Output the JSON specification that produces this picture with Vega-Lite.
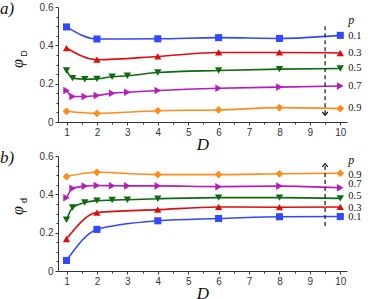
{
  "$schema": "https://vega.github.io/schema/vega-lite/v6.json",
  "padding": {"left": 0, "top": 0, "right": 0, "bottom": 0},
  "spacing": -3,
  "config": {
    "view": {"stroke": null},
    "axis": {
      "grid": false,
      "labelFont": "Liberation Sans",
      "labelFontSize": 10,
      "labelColor": "#333",
      "domainColor": "#333",
      "tickColor": "#333",
      "tickSize": 3,
      "labelPadding": 2,
      "titleFont": "Liberation Serif",
      "titleFontStyle": "italic",
      "titleFontWeight": "normal",
      "titleFontSize": 17,
      "titleColor": "#111"
    },
    "title": {"font": "Liberation Serif", "fontStyle": "italic", "fontWeight": "normal", "fontSize": 17, "color": "#111"}
  },
  "datasets": {
    "series": [
      {"panel": "a", "p": "0.1", "D": 1, "phi": 0.496},
      {"panel": "a", "p": "0.1", "D": 2, "phi": 0.433},
      {"panel": "a", "p": "0.1", "D": 4, "phi": 0.434},
      {"panel": "a", "p": "0.1", "D": 6, "phi": 0.44},
      {"panel": "a", "p": "0.1", "D": 8, "phi": 0.436},
      {"panel": "a", "p": "0.1", "D": 10, "phi": 0.452},
      {"panel": "a", "p": "0.3", "D": 1, "phi": 0.386},
      {"panel": "a", "p": "0.3", "D": 2, "phi": 0.325},
      {"panel": "a", "p": "0.3", "D": 4, "phi": 0.342},
      {"panel": "a", "p": "0.3", "D": 6, "phi": 0.363},
      {"panel": "a", "p": "0.3", "D": 8, "phi": 0.363},
      {"panel": "a", "p": "0.3", "D": 10, "phi": 0.36},
      {"panel": "a", "p": "0.5", "D": 1, "phi": 0.269},
      {"panel": "a", "p": "0.5", "D": 1.2, "phi": 0.229},
      {"panel": "a", "p": "0.5", "D": 1.6, "phi": 0.223},
      {"panel": "a", "p": "0.5", "D": 2, "phi": 0.225},
      {"panel": "a", "p": "0.5", "D": 2.5, "phi": 0.236},
      {"panel": "a", "p": "0.5", "D": 3, "phi": 0.241},
      {"panel": "a", "p": "0.5", "D": 4, "phi": 0.258},
      {"panel": "a", "p": "0.5", "D": 6, "phi": 0.269},
      {"panel": "a", "p": "0.5", "D": 8, "phi": 0.276},
      {"panel": "a", "p": "0.5", "D": 10, "phi": 0.279},
      {"panel": "a", "p": "0.7", "D": 1, "phi": 0.164},
      {"panel": "a", "p": "0.7", "D": 1.2, "phi": 0.133},
      {"panel": "a", "p": "0.7", "D": 1.6, "phi": 0.133},
      {"panel": "a", "p": "0.7", "D": 2, "phi": 0.138},
      {"panel": "a", "p": "0.7", "D": 2.5, "phi": 0.15},
      {"panel": "a", "p": "0.7", "D": 3, "phi": 0.155},
      {"panel": "a", "p": "0.7", "D": 4, "phi": 0.164},
      {"panel": "a", "p": "0.7", "D": 6, "phi": 0.176},
      {"panel": "a", "p": "0.7", "D": 8, "phi": 0.182},
      {"panel": "a", "p": "0.7", "D": 10, "phi": 0.188},
      {"panel": "a", "p": "0.9", "D": 1, "phi": 0.056},
      {"panel": "a", "p": "0.9", "D": 2, "phi": 0.045},
      {"panel": "a", "p": "0.9", "D": 4, "phi": 0.059},
      {"panel": "a", "p": "0.9", "D": 6, "phi": 0.063},
      {"panel": "a", "p": "0.9", "D": 8, "phi": 0.075},
      {"panel": "a", "p": "0.9", "D": 10, "phi": 0.07},
      {"panel": "b", "p": "0.1", "D": 1, "phi": 0.055},
      {"panel": "b", "p": "0.1", "D": 2, "phi": 0.217},
      {"panel": "b", "p": "0.1", "D": 4, "phi": 0.262},
      {"panel": "b", "p": "0.1", "D": 6, "phi": 0.274},
      {"panel": "b", "p": "0.1", "D": 8, "phi": 0.283},
      {"panel": "b", "p": "0.1", "D": 10, "phi": 0.284},
      {"panel": "b", "p": "0.3", "D": 1, "phi": 0.167},
      {"panel": "b", "p": "0.3", "D": 2, "phi": 0.305},
      {"panel": "b", "p": "0.3", "D": 4, "phi": 0.32},
      {"panel": "b", "p": "0.3", "D": 6, "phi": 0.334},
      {"panel": "b", "p": "0.3", "D": 8, "phi": 0.333},
      {"panel": "b", "p": "0.3", "D": 10, "phi": 0.334},
      {"panel": "b", "p": "0.5", "D": 1, "phi": 0.267},
      {"panel": "b", "p": "0.5", "D": 1.2, "phi": 0.331},
      {"panel": "b", "p": "0.5", "D": 1.6, "phi": 0.357},
      {"panel": "b", "p": "0.5", "D": 2, "phi": 0.367},
      {"panel": "b", "p": "0.5", "D": 2.5, "phi": 0.37},
      {"panel": "b", "p": "0.5", "D": 3, "phi": 0.372},
      {"panel": "b", "p": "0.5", "D": 4, "phi": 0.377},
      {"panel": "b", "p": "0.5", "D": 6, "phi": 0.383},
      {"panel": "b", "p": "0.5", "D": 8, "phi": 0.383},
      {"panel": "b", "p": "0.5", "D": 10, "phi": 0.379},
      {"panel": "b", "p": "0.7", "D": 1, "phi": 0.382},
      {"panel": "b", "p": "0.7", "D": 1.2, "phi": 0.431},
      {"panel": "b", "p": "0.7", "D": 1.6, "phi": 0.443},
      {"panel": "b", "p": "0.7", "D": 2, "phi": 0.446},
      {"panel": "b", "p": "0.7", "D": 2.5, "phi": 0.445},
      {"panel": "b", "p": "0.7", "D": 3, "phi": 0.444},
      {"panel": "b", "p": "0.7", "D": 4, "phi": 0.444},
      {"panel": "b", "p": "0.7", "D": 6, "phi": 0.44},
      {"panel": "b", "p": "0.7", "D": 8, "phi": 0.443},
      {"panel": "b", "p": "0.7", "D": 10, "phi": 0.434},
      {"panel": "b", "p": "0.9", "D": 1, "phi": 0.493},
      {"panel": "b", "p": "0.9", "D": 2, "phi": 0.515},
      {"panel": "b", "p": "0.9", "D": 4, "phi": 0.503},
      {"panel": "b", "p": "0.9", "D": 6, "phi": 0.503},
      {"panel": "b", "p": "0.9", "D": 8, "phi": 0.507},
      {"panel": "b", "p": "0.9", "D": 10, "phi": 0.51}
    ],
    "labels": [
      {"panel": "a", "D": 10, "y": 0.447, "text": "0.1"},
      {"panel": "a", "D": 10, "y": 0.36, "text": "0.3"},
      {"panel": "a", "D": 10, "y": 0.284, "text": "0.5"},
      {"panel": "a", "D": 10, "y": 0.188, "text": "0.7"},
      {"panel": "a", "D": 10, "y": 0.072, "text": "0.9"},
      {"panel": "b", "D": 10, "y": 0.502, "text": "0.9"},
      {"panel": "b", "D": 10, "y": 0.452, "text": "0.7"},
      {"panel": "b", "D": 10, "y": 0.391, "text": "0.5"},
      {"panel": "b", "D": 10, "y": 0.331, "text": "0.3"},
      {"panel": "b", "D": 10, "y": 0.284, "text": "0.1"}
    ],
    "plabel": [
      {"panel": "a", "D": 10, "y": 0.53, "text": "p"},
      {"panel": "b", "D": 10, "y": 0.58, "text": "p"}
    ],
    "arrows": [
      {"panel": "a", "D": 9.5, "y1": 0.5, "y2": 0.035},
      {"panel": "b", "D": 9.5, "y1": 0.235, "y2": 0.56}
    ]
  },
  "vconcat": [
    {
      "width": 289,
      "height": 115,
      "title": {"text": "a)", "anchor": "start", "frame": "group", "dx": -58, "dy": 20},
      "resolve": {"axis": {"x": "independent", "y": "independent"}},
      "layer": [
        {
          "data": {"name": "series"},
          "transform": [{"filter": "datum.panel == 'a'"}],
          "mark": {"type": "line", "interpolate": "monotone", "strokeWidth": 1.6},
          "encoding": {
            "x": {"field": "D", "type": "quantitative", "scale": {"domain": [0.72, 10.22], "nice": false, "zero": false},
              "axis": {"orient": "bottom", "values": [1, 2, 3, 4, 5, 6, 7, 8, 9, 10], "title": "D", "titlePadding": -1}},
            "y": {"field": "phi", "type": "quantitative", "scale": {"domain": [0, 0.6], "nice": false},
              "axis": {"orient": "left", "values": [0, 0.2, 0.4, 0.6], "labelExpr": "datum.value == 0 ? '0' : format(datum.value, '.1f')", "title": "φ", "titleFontSize": 16, "titleX": -33, "titleY": 56, "titleBaseline": "bottom", "titleAngle": 270}},
            "color": {"field": "p", "type": "nominal", "legend": null,
              "scale": {"domain": ["0.1", "0.3", "0.5", "0.7", "0.9"], "range": ["#3048ff", "#e00c0c", "#0e6a0e", "#b81cb8", "#ff8c1a"]}}
          }
        },
        {
          "data": {"name": "series"},
          "transform": [{"filter": "datum.panel == 'a'"}],
          "mark": {"type": "point", "filled": true, "opacity": 1},
          "encoding": {
            "x": {"field": "D", "type": "quantitative", "axis": {"orient": "bottom", "values": [1.5, 2.5, 3.5, 4.5, 5.5, 6.5, 7.5, 8.5, 9.5], "labels": false, "domain": false, "tickSize": 2, "title": null}},
            "y": {"field": "phi", "type": "quantitative", "axis": {"orient": "left", "values": [0.05, 0.1, 0.15, 0.25, 0.3, 0.35, 0.45, 0.5, 0.55], "labels": false, "domain": false, "tickSize": 2, "title": "D", "titleFont": "Liberation Sans", "titleFontStyle": "normal", "titleFontSize": 9, "titleX": -30, "titleY": 46, "titleBaseline": "bottom", "titleAngle": 270}},
            "color": {"field": "p", "type": "nominal", "legend": null},
            "shape": {"field": "p", "type": "nominal", "legend": null,
              "scale": {"domain": ["0.1", "0.3", "0.5", "0.7", "0.9"], "range": ["square", "triangle-up", "triangle-down", "triangle-right", "diamond"]}},
            "size": {"field": "p", "type": "nominal", "legend": null,
              "scale": {"domain": ["0.1", "0.3", "0.5", "0.7", "0.9"], "range": [50, 60, 60, 60, 75]}}
          }
        },
        {
          "data": {"name": "arrows"},
          "transform": [{"filter": "datum.panel == 'a'"}],
          "mark": {"type": "rule", "strokeDash": [4, 3], "strokeWidth": 1.2, "color": "#111"},
          "encoding": {
            "x": {"field": "D", "type": "quantitative", "axis": null},
            "y": {"field": "y1", "type": "quantitative", "axis": null},
            "y2": {"field": "y2"}
          }
        },
        {
          "data": {"name": "arrows"},
          "transform": [{"filter": "datum.panel == 'a'"}],
          "mark": {"type": "point", "shape": "M-1,-1.2L0,0L1,-1.2", "filled": false, "stroke": "#111", "strokeWidth": 1.2, "size": 30, "opacity": 1},
          "encoding": {
            "x": {"field": "D", "type": "quantitative", "axis": null},
            "y": {"field": "y2", "type": "quantitative", "axis": null}
          }
        },
        {
          "data": {"name": "labels"},
          "transform": [{"filter": "datum.panel == 'a'"}],
          "mark": {"type": "text", "align": "left", "baseline": "middle", "dx": 8, "font": "Liberation Serif", "fontSize": 10.5, "color": "#111"},
          "encoding": {
            "x": {"field": "D", "type": "quantitative", "axis": null},
            "y": {"field": "y", "type": "quantitative", "axis": null},
            "text": {"field": "text"}
          }
        },
        {
          "data": {"name": "plabel"},
          "transform": [{"filter": "datum.panel == 'a'"}],
          "mark": {"type": "text", "align": "left", "baseline": "middle", "dx": 8, "font": "Liberation Serif", "fontStyle": "italic", "fontSize": 12, "color": "#111"},
          "encoding": {
            "x": {"field": "D", "type": "quantitative", "axis": null},
            "y": {"field": "y", "type": "quantitative", "axis": null},
            "text": {"field": "text"}
          }
        }
      ]
    },
    {
      "width": 289,
      "height": 115,
      "title": {"text": "b)", "anchor": "start", "frame": "group", "dx": -58, "dy": 20},
      "resolve": {"axis": {"x": "independent", "y": "independent"}},
      "layer": [
        {
          "data": {"name": "series"},
          "transform": [{"filter": "datum.panel == 'b'"}],
          "mark": {"type": "line", "interpolate": "monotone", "strokeWidth": 1.6},
          "encoding": {
            "x": {"field": "D", "type": "quantitative", "scale": {"domain": [0.72, 10.22], "nice": false, "zero": false},
              "axis": {"orient": "bottom", "values": [1, 2, 3, 4, 5, 6, 7, 8, 9, 10], "title": "D", "titlePadding": -1}},
            "y": {"field": "phi", "type": "quantitative", "scale": {"domain": [0, 0.6], "nice": false},
              "axis": {"orient": "left", "values": [0, 0.2, 0.4, 0.6], "labelExpr": "datum.value == 0 ? '0' : format(datum.value, '.1f')", "title": "φ", "titleFontSize": 16, "titleX": -33, "titleY": 54, "titleBaseline": "bottom", "titleAngle": 270}},
            "color": {"field": "p", "type": "nominal", "legend": null,
              "scale": {"domain": ["0.1", "0.3", "0.5", "0.7", "0.9"], "range": ["#3048ff", "#e00c0c", "#0e6a0e", "#b81cb8", "#ff8c1a"]}}
          }
        },
        {
          "data": {"name": "series"},
          "transform": [{"filter": "datum.panel == 'b'"}],
          "mark": {"type": "point", "filled": true, "opacity": 1},
          "encoding": {
            "x": {"field": "D", "type": "quantitative", "axis": {"orient": "bottom", "values": [1.5, 2.5, 3.5, 4.5, 5.5, 6.5, 7.5, 8.5, 9.5], "labels": false, "domain": false, "tickSize": 2, "title": null}},
            "y": {"field": "phi", "type": "quantitative", "axis": {"orient": "left", "values": [0.05, 0.1, 0.15, 0.25, 0.3, 0.35, 0.45, 0.5, 0.55], "labels": false, "domain": false, "tickSize": 2, "title": "d", "titleFont": "Liberation Sans", "titleFontStyle": "normal", "titleFontSize": 9, "titleX": -30, "titleY": 44, "titleBaseline": "bottom", "titleAngle": 270}},
            "color": {"field": "p", "type": "nominal", "legend": null},
            "shape": {"field": "p", "type": "nominal", "legend": null,
              "scale": {"domain": ["0.1", "0.3", "0.5", "0.7", "0.9"], "range": ["square", "triangle-up", "triangle-down", "triangle-right", "diamond"]}},
            "size": {"field": "p", "type": "nominal", "legend": null,
              "scale": {"domain": ["0.1", "0.3", "0.5", "0.7", "0.9"], "range": [50, 60, 60, 60, 75]}}
          }
        },
        {
          "data": {"name": "arrows"},
          "transform": [{"filter": "datum.panel == 'b'"}],
          "mark": {"type": "rule", "strokeDash": [4, 3], "strokeWidth": 1.2, "color": "#111"},
          "encoding": {
            "x": {"field": "D", "type": "quantitative", "axis": null},
            "y": {"field": "y1", "type": "quantitative", "axis": null},
            "y2": {"field": "y2"}
          }
        },
        {
          "data": {"name": "arrows"},
          "transform": [{"filter": "datum.panel == 'b'"}],
          "mark": {"type": "point", "shape": "M-1,1.2L0,0L1,1.2", "filled": false, "stroke": "#111", "strokeWidth": 1.2, "size": 30, "opacity": 1},
          "encoding": {
            "x": {"field": "D", "type": "quantitative", "axis": null},
            "y": {"field": "y2", "type": "quantitative", "axis": null}
          }
        },
        {
          "data": {"name": "labels"},
          "transform": [{"filter": "datum.panel == 'b'"}],
          "mark": {"type": "text", "align": "left", "baseline": "middle", "dx": 8, "font": "Liberation Serif", "fontSize": 10.5, "color": "#111"},
          "encoding": {
            "x": {"field": "D", "type": "quantitative", "axis": null},
            "y": {"field": "y", "type": "quantitative", "axis": null},
            "text": {"field": "text"}
          }
        },
        {
          "data": {"name": "plabel"},
          "transform": [{"filter": "datum.panel == 'b'"}],
          "mark": {"type": "text", "align": "left", "baseline": "middle", "dx": 8, "font": "Liberation Serif", "fontStyle": "italic", "fontSize": 12, "color": "#111"},
          "encoding": {
            "x": {"field": "D", "type": "quantitative", "axis": null},
            "y": {"field": "y", "type": "quantitative", "axis": null},
            "text": {"field": "text"}
          }
        }
      ]
    }
  ]
}
